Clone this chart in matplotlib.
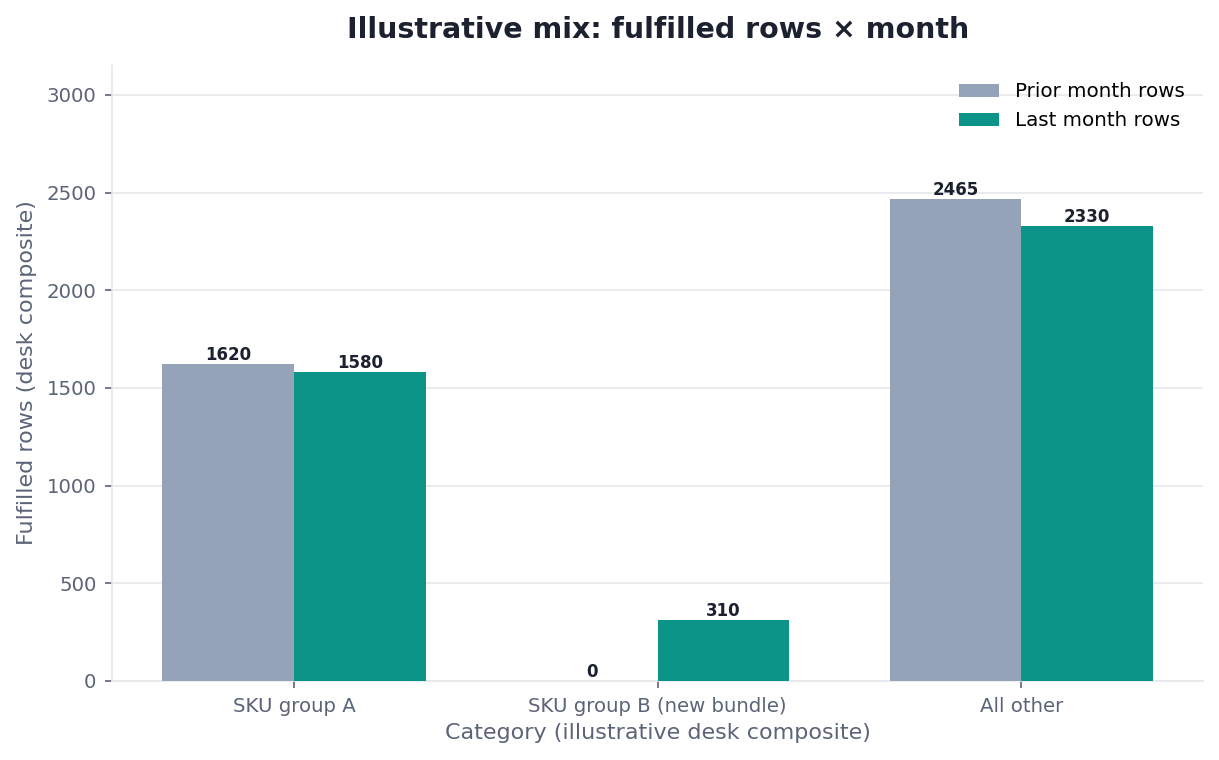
import numpy as np
import matplotlib
matplotlib.use("Agg")
import matplotlib.pyplot as plt

# data
categories = ["SKU group A", "SKU group B (new bundle)", "All other"]
prior_rows = [1620, 0, 2465]
last_rows = [1580, 310, 2330]

col_prior = "#94a3b8"
col_last = "#0d9488"
col_text = "#1c2130"
col_muted = "#5b6478"
col_grid = "#e5e7eb"

fig, ax = plt.subplots(figsize=(12.19, 7.6), dpi=100)
fig.subplots_adjust(left=0.092, right=0.987, top=0.915, bottom=0.104)

x = np.arange(len(categories))
w = 0.362
b1 = ax.bar(x - w / 2, prior_rows, w, color=col_prior, label="Prior month rows", zorder=3)
b2 = ax.bar(x + w / 2, last_rows, w, color=col_last, label="Last month rows", zorder=3)

for bars in (b1, b2):
    for r in bars:
        ax.annotate(f"{int(r.get_height())}", (r.get_x() + r.get_width() / 2, r.get_height()),
                    xytext=(0, 0), textcoords="offset points", ha="center", va="bottom",
                    fontsize=12, fontweight="bold", color=col_text)

ax.set_xlim(-0.5, 2.5)
ax.set_ylim(0, max(prior_rows + last_rows) * 1.28)
ax.set_xticks(x)
ax.set_xticklabels(categories)
ax.set_yticks([0, 500, 1000, 1500, 2000, 2500, 3000])

ax.grid(axis="y", color=col_grid, linewidth=1.2, zorder=0)
ax.set_axisbelow(True)
for s in ["top", "right"]:
    ax.spines[s].set_visible(False)
for s in ["left", "bottom"]:
    ax.spines[s].set_color(col_grid)
    ax.spines[s].set_linewidth(1.2)
ax.tick_params(axis="both", colors=col_muted, labelsize=14.2, length=5, width=1.2, pad=6.3)

ax.set_title("Illustrative mix: fulfilled rows × month", fontsize=20.5, fontweight="bold",
             color=col_text, pad=19)
ax.set_xlabel("Category (illustrative desk composite)", fontsize=16, color=col_muted, labelpad=5)
ax.set_ylabel("Fulfilled rows (desk composite)", fontsize=16, color=col_muted, labelpad=7)

ax.legend(loc="upper right", frameon=False, fontsize=14.3, handlelength=2.0, handletextpad=0.85)

fig.savefig("out.png", dpi=100)
